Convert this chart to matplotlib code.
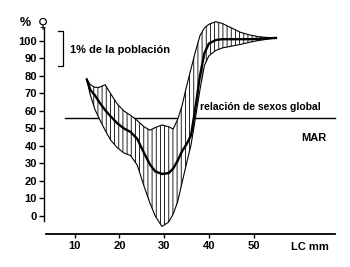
## Sex ratio (% females) by carapace length, with the spread band hatched.
import matplotlib
matplotlib.use("Agg")
import matplotlib.pyplot as plt

plt.rcParams['font.family'] = ['Liberation Sans', 'DejaVu Sans']
plt.rcParams['hatch.linewidth'] = 0.6

# carapace length (mm) and % females: band upper edge, mean line, band lower edge
lc = [12.7, 13.5, 14.5, 15.5, 16.8, 18, 19.5, 21, 22.5, 24, 25.5, 26.8, 28, 29.5, 31, 32,
      33, 34, 35, 36, 37, 38, 39, 40, 41.5, 43, 45, 47, 49, 51, 53, 55]
upper = [78, 75, 73.5, 73.5, 75, 70, 64, 60, 57.5, 54.5, 51, 49, 50.5, 52, 51, 49.7,
         55, 63, 74, 84, 94, 103, 107.5, 109.5, 111, 110, 107.5, 105, 103.5, 102.5, 102, 101.7]
mean = [78, 72, 69, 65, 60.5, 57, 53, 50, 48, 44, 36, 29.5, 25.5, 24, 24.5, 27,
        31.5, 37, 41, 46, 62, 80, 93, 98.5, 100.5, 101, 101, 101, 101, 101.2, 101.5, 101.7]
lower = [78, 69, 61, 55.5, 49, 43.5, 39, 36, 34.5, 29, 17, 7.5, 0, -6, -3.5, 1,
         8, 19, 30, 40.5, 56, 72, 86, 91.5, 94.5, 96, 97, 98, 99.2, 100.2, 101, 101.7]
global_ratio = 56
yticks = [0, 10, 20, 30, 40, 50, 60, 70, 80, 90, 100]
xticks = [10, 20, 30, 40, 50]

fig = plt.figure(figsize=(3.5, 2.67), dpi=100)
ax = fig.add_axes([0.1257, 0.1236, 0.8314, 0.7715])
ax.set_xlim(3.13, 68.2)
ax.set_ylim(-10.3, 107.4)

# overall sex ratio line, hidden behind the band
ax.plot([7.8, 68.2], [global_ratio, global_ratio], color='black', lw=1.0, zorder=1, clip_on=False)

ax.fill_between(lc, lower, upper, facecolor='white', edgecolor='black', hatch='||||',
                linewidth=0, zorder=2, clip_on=False)
ax.plot(lc, upper, color='black', lw=0.8, zorder=3, clip_on=False)
ax.plot(lc, lower, color='black', lw=0.8, zorder=3, clip_on=False)
ax.plot(lc, mean, color='black', lw=1.7, zorder=4, clip_on=False)

# scale bracket
ax.plot([6.3, 7.3, 7.3, 6.3], [105.7, 105.7, 85.7, 85.7], color='black', lw=0.9, clip_on=False)
ax.text(8.9, 95, '1% de la población', fontsize=8, fontweight='bold', va='center')
ax.text(38, 62, 'relación de sexos global', fontsize=7.5, fontweight='bold', va='center')
ax.text(66.4, 44.5, 'MAR', fontsize=8, fontweight='bold', ha='right', va='center')
ax.text(62.6, -17.7, 'LC mm', fontsize=8, fontweight='bold', ha='center', va='center',
        clip_on=False)
fig.text(25 / 350, 1 - 23 / 267, '%', fontsize=9, fontweight='bold', ha='center', va='center')
fig.text(43 / 350, 1 - 23 / 267, '♀', fontsize=10, fontweight='bold', ha='center', va='center',
         family=['DejaVu Sans'])

for s in ['top', 'right']:
    ax.spines[s].set_visible(False)
ax.spines['left'].set_bounds(-3, 107.4)
ax.spines['bottom'].set_bounds(3.6, 68.2)
ax.spines['left'].set_linewidth(1.0)
ax.spines['bottom'].set_linewidth(1.3)

ax.set_yticks(yticks)
ax.set_yticklabels([str(v) for v in yticks], fontsize=8, fontweight='bold')
ax.set_xticks(xticks)
ax.set_xticklabels([str(v) for v in xticks], fontsize=8, fontweight='bold')
ax.tick_params(axis='y', length=3.5, width=1.0, pad=1.5)
ax.tick_params(axis='x', length=3, width=1.0, pad=2)

fig.savefig('out.png', dpi=100)
